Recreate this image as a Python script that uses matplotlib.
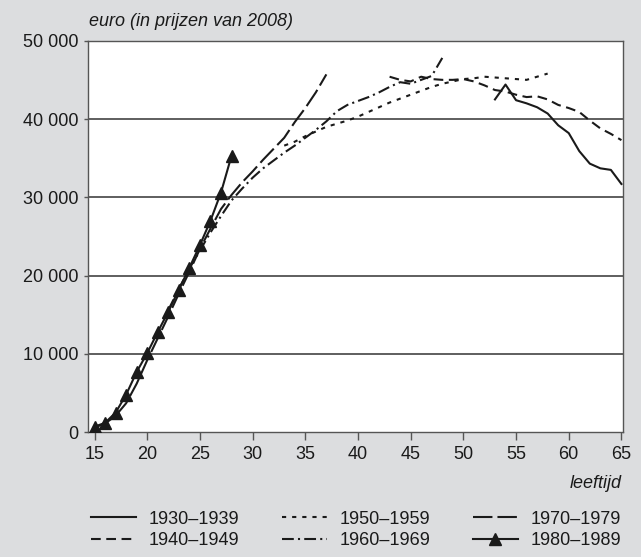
import numpy as np
import matplotlib
matplotlib.use("Agg")
import matplotlib.pyplot as plt
from matplotlib.ticker import FuncFormatter

plt.rcParams['font.family'] = ['Liberation Sans', 'DejaVu Sans']
plt.rcParams['lines.scale_dashes'] = False

# leeftijd per cohort en inkomen (euro, prijzen 2008)
ages_1930 = list(range(53, 66))
inc_1930 = [42500, 44400, 42400, 42000, 41500, 40700, 39200, 38200, 35900, 34300, 33700, 33500, 31700]

ages_1940 = list(range(43, 66))
inc_1940 = [45400, 45000, 44800, 45400, 45100, 45000, 45000, 45100, 44800, 44300, 43700, 43500,
            43100, 42800, 42900, 42500, 41800, 41400, 40900, 39800, 38800, 38100, 37300]

ages_1950 = list(range(33, 59))
inc_1950 = [36600, 37100, 37800, 38400, 39000, 39400, 39800, 40300, 40900, 41500, 42100, 42600,
            43100, 43600, 44100, 44500, 44800, 45100, 45200, 45400, 45300, 45200, 45100, 45000,
            45400, 45800]

ages_1960 = list(range(22, 49))
inc_1960 = [15600, 18300, 20900, 23200, 25500, 27600, 29600, 31100, 32500, 33700, 34700, 35700,
            36600, 37600, 38600, 39700, 41000, 41800, 42300, 42800, 43400, 44100, 44700, 44500,
            45000, 45500, 47800]

ages_1970 = list(range(15, 38))
inc_1970 = [600, 1100, 2100, 3700, 6200, 9200, 12000, 14800, 17700, 20500, 23400, 26000, 28500,
            30300, 31900, 33300, 34800, 36200, 37600, 39600, 41400, 43400, 45700]

ages_1980 = list(range(15, 29))
inc_1980 = [700, 1200, 2500, 4800, 7700, 10100, 12800, 15400, 18200, 21000, 23900, 27000, 30600, 35300]

labels = ['1930–1939', '1940–1949', '1950–1959', '1960–1969', '1970–1979', '1980–1989']
x_ticks = list(range(15, 70, 5))
y_ticks = [0, 10000, 20000, 30000, 40000, 50000]

bg = '#dcdddf'
ink = '#1a1a1a'

fig = plt.figure(figsize=(6.41, 5.57), dpi=100, facecolor=bg)
ax = fig.add_axes([88 / 641, 1 - 432.2 / 557, (623 - 88) / 641, (432.2 - 40.7) / 557])
ax.set_facecolor('white')

for y in y_ticks[1:-1]:
    ax.axhline(y, color='#333333', linewidth=1.1, zorder=1)

lw = 1.5
ax.plot(ages_1930, inc_1930, color=ink, linewidth=lw, linestyle='-', label=labels[0], zorder=3)
ax.plot(ages_1940, inc_1940, color=ink, linewidth=lw, linestyle=(0, (7, 4)), label=labels[1], zorder=3)
ax.plot(ages_1950, inc_1950, color=ink, linewidth=lw, linestyle=(0, (3, 4.3)), label=labels[2], zorder=3)
ax.plot(ages_1960, inc_1960, color=ink, linewidth=lw, linestyle=(0, (8.5, 3, 1.5, 3)), label=labels[3], zorder=3)
ax.plot(ages_1970, inc_1970, color=ink, linewidth=lw, linestyle=(0, (14, 3.6)), label=labels[4], zorder=3)
ax.plot(ages_1980, inc_1980, color=ink, linewidth=lw, linestyle='-', marker='^', markersize=8,
        label=labels[5], zorder=4)

ax.set_xlim(14.38, 65.15)
ax.set_ylim(0, 50000)
ax.set_xticks(x_ticks)
ax.set_yticks(y_ticks)
ax.yaxis.set_major_formatter(FuncFormatter(lambda v, p: f"{int(v):,}".replace(',', ' ')))

for s in ax.spines.values():
    s.set_color('#555555')
    s.set_linewidth(1.0)

ax.tick_params(axis='x', direction='out', length=6, width=1, color='#555555',
               labelsize=13, pad=4, labelcolor=ink)
ax.tick_params(axis='y', direction='out', length=3, width=1, color='#555555',
               labelsize=13, pad=4, labelcolor=ink)

fig.text(89 / 641, 1 - 22 / 557, 'euro (in prijzen van 2008)', fontsize=13, style='italic',
         color=ink, ha='left', va='center')
fig.text(622 / 641, 1 - 484 / 557, 'leeftijd', fontsize=13, style='italic',
         color=ink, ha='right', va='center')

handles, labs = ax.get_legend_handles_labels()
fig.legend(handles, labs, ncol=3, loc='center left', bbox_to_anchor=(91 / 641, 1 - 530 / 557),
           frameon=False, fontsize=13, handlelength=2.5, handletextpad=0.7,
           columnspacing=2.35, labelspacing=0.25, borderpad=0, borderaxespad=0,
           labelcolor=ink)

fig.savefig('out.png', dpi=100, facecolor=bg)
